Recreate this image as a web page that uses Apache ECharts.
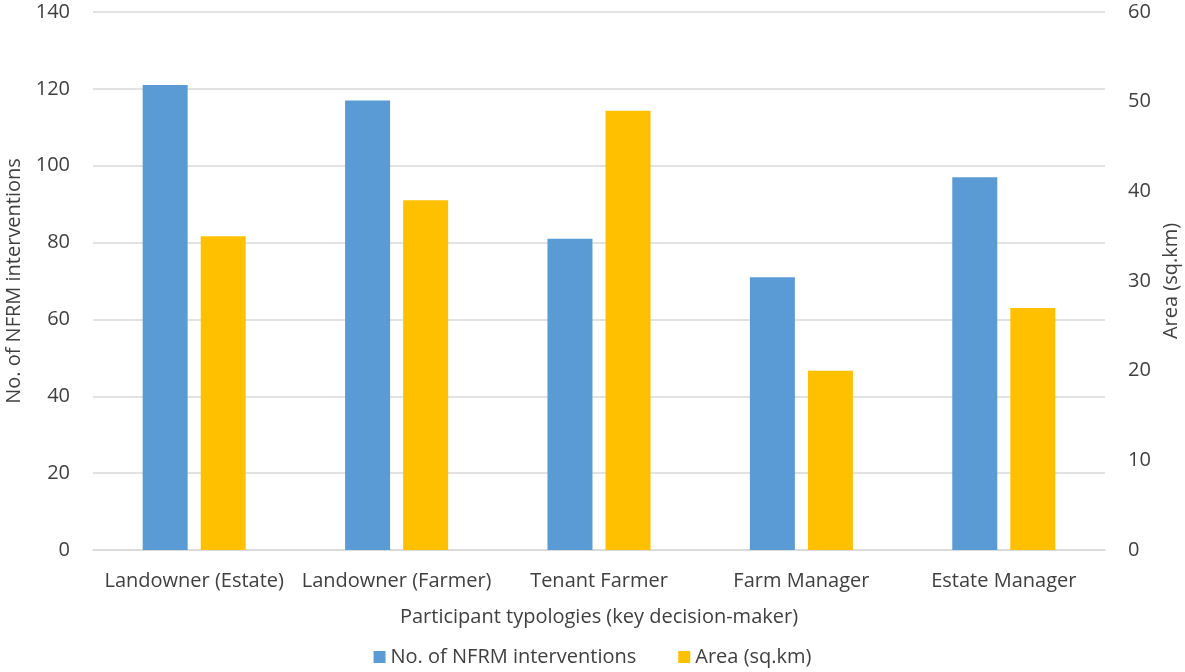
<!DOCTYPE html>
<html>
<head>
<meta charset="utf-8">
<title>NFRM interventions by participant typology</title>
<script src="https://cdn.jsdelivr.net/npm/echarts@6/dist/echarts.min.js"></script>
<style>
  html, body { margin: 0; padding: 0; background: #fff; }
  #chart { width: 1185px; height: 672px; }
</style>
</head>
<body>
<div id="chart"></div>
<script>
// data
var categories = ['Landowner (Estate)', 'Landowner (Farmer)', 'Tenant Farmer', 'Farm Manager', 'Estate Manager'];
var interventions = [121, 117, 81, 71, 97];
var areaSqKm = [35, 39, 49, 20, 27];

var textColor = '#404040';
var font = '"Open Sans", "Noto Sans", sans-serif';
var fs = 20;

var chart = echarts.init(document.getElementById('chart'));
chart.setOption({
  animation: false,
  textStyle: { fontFamily: font, color: textColor },
  grid: { left: 93, right: 80, top: 12, bottom: 122, outerBoundsMode: 'none' },
  legend: {
    top: 647,
    left: 'center',
    padding: 0,
    itemWidth: 12,
    itemHeight: 12,
    itemGap: 42,
    icon: 'rect',
    textStyle: { fontSize: fs, color: textColor, fontFamily: font },
    data: ['No. of NFRM interventions', 'Area (sq.km)']
  },
  xAxis: {
    type: 'category',
    data: categories,
    name: 'Participant typologies (key decision-maker)',
    nameLocation: 'middle',
    nameGap: 57,
    nameTextStyle: { fontSize: fs, color: textColor },
    axisLine: { lineStyle: { color: '#d9d9d9', width: 1.5 } },
    axisTick: { show: false },
    axisLabel: { fontSize: fs, color: textColor, margin: 21, interval: 0 }
  },
  yAxis: [
    {
      type: 'value',
      min: 0, max: 140, interval: 20,
      name: 'No. of NFRM interventions',
      nameLocation: 'middle',
      nameGap: 68,
      nameTextStyle: { fontSize: fs, color: textColor },
      axisLine: { show: false },
      axisTick: { show: false },
      axisLabel: { fontSize: fs, color: textColor, margin: 23 },
      splitLine: { lineStyle: { color: '#d9d9d9', width: 1.5 } }
    },
    {
      type: 'value',
      min: 0, max: 60, interval: 10,
      name: 'Area (sq.km)',
      nameLocation: 'middle',
      nameGap: 56,
      nameTextStyle: { fontSize: fs, color: textColor },
      axisLine: { show: false },
      axisTick: { show: false },
      axisLabel: { fontSize: fs, color: textColor, margin: 23 },
      splitLine: { show: false }
    }
  ],
  series: [
    {
      name: 'No. of NFRM interventions',
      type: 'bar',
      yAxisIndex: 0,
      data: interventions,
      barWidth: 45,
      barGap: '29%',
      itemStyle: { color: '#5b9bd5' }
    },
    {
      name: 'Area (sq.km)',
      type: 'bar',
      yAxisIndex: 1,
      data: areaSqKm,
      barWidth: 45,
      itemStyle: { color: '#ffc000' }
    }
  ]
});
window.onresize = chart.resize;
</script>
</body>
</html>
